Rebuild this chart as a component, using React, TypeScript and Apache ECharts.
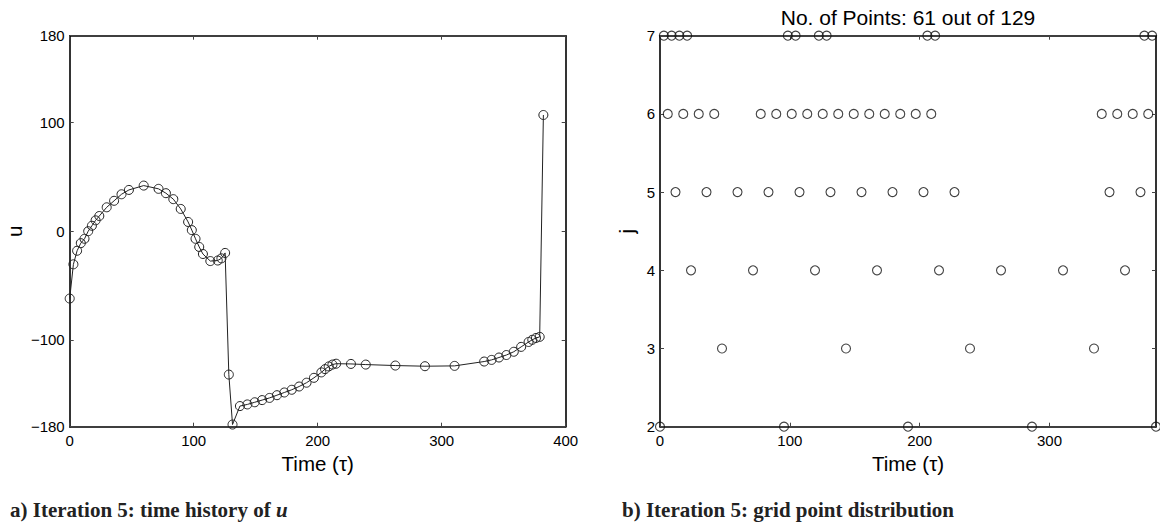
import React, { useEffect, useRef } from "react";
import * as echarts from "echarts";

// ---- Data ----
// Panel a: time history of u at the 61 retained grid points
const timePoints = [
  0, 2.98, 5.97, 8.95, 11.94, 14.92, 17.91, 20.89, 23.88, 29.84, 35.81, 41.78, 47.75,
  59.69, 71.63, 77.59, 83.56, 89.53, 95.5, 98.48, 101.47, 104.45, 107.44, 113.41,
  119.38, 122.36, 125.34, 128.33, 131.31, 137.28, 143.25, 149.22, 155.19, 161.16,
  167.13, 173.09, 179.06, 185.03, 191, 196.97, 202.94, 205.92, 208.91, 211.89, 214.88,
  226.81, 238.75, 262.63, 286.5, 310.38, 334.25, 340.22, 346.19, 352.16, 358.13,
  364.09, 370.06, 373.05, 376.03, 379.02, 382,
];
const uValues = [
  -62, -30.5, -18, -11, -7, 0, 5, 10, 14, 22, 28, 34, 38,
  42, 39, 35, 29.5, 20.5, 8.5, 1, -7, -14.5, -21, -27.5,
  -27, -25, -20, -132, -178, -161, -159.5, -157.5, -155.5, -153.5,
  -151, -148.5, -146, -143, -139.5, -135, -130, -127, -124.5, -122.8, -122,
  -122.2, -122.8, -123.7, -124.3, -124, -120, -118.5, -116.3, -114, -111,
  -106.5, -102, -100, -98.3, -97.3, 107,
];

// Panel b: grid point distribution, time positions per level j
const level2Times = [0, 95.5, 191, 286.5, 382];
const level3Times = [47.75, 143.25, 238.75, 334.25];
const level4Times = [23.88, 71.63, 119.38, 167.13, 214.88, 262.63, 310.38, 358.13];
const level5Times = [11.94, 35.81, 59.69, 83.56, 107.44, 131.31, 155.19, 179.06, 202.94, 226.81, 346.19, 370.06];
const level6Times = [
  5.97, 17.91, 29.84, 41.78, 77.59, 89.53, 101.47, 113.41, 125.34, 137.28, 149.22,
  161.16, 173.09, 185.03, 196.97, 208.91, 340.22, 352.16, 364.09, 376.03,
];
const level7Times = [2.98, 8.95, 14.92, 20.89, 98.48, 104.45, 122.36, 128.33, 205.92, 211.89, 373.05, 379.02];
const levels = [2, 3, 4, 5, 6, 7];
const levelTimes = [level2Times, level3Times, level4Times, level5Times, level6Times, level7Times];

// Tick labels
const uTicks = [-180, -100, 0, 100, 180];
const timeTicksA = [0, 100, 200, 300, 400];
const timeTicksB = [0, 100, 200, 300];
const jTicks = [2, 3, 4, 5, 6, 7];

const titleText = "No. of Points: 61 out of 129";
const captionA = "a) Iteration 5: time history of ";
const captionB = "b) Iteration 5: grid point distribution";

const SANS = '"Liberation Sans", Arial, Helvetica, sans-serif';
const SERIF = '"Liberation Serif", "Times New Roman", serif';

const fmtMinus = (v: number) => (v < 0 ? "\u2212" + Math.abs(v) : String(v));

function mkAxis(opts: any) {
  const { gridIndex, position, min, max, ticks, labels, name, nameGap, formatter } = opts;
  return {
    type: "value",
    gridIndex,
    position,
    min,
    max,
    name: name || "",
    nameLocation: "middle",
    nameGap: nameGap || 20,
    nameTextStyle: { fontFamily: SANS, fontSize: 20.5, color: "#000" },
    axisLine: { show: true, onZero: false, lineStyle: { color: "#000", width: 1.6 } },
    axisTick: {
      show: true,
      inside: true,
      length: 4,
      customValues: ticks,
      lineStyle: { color: "#444", width: 1 },
    },
    axisLabel: {
      show: !!labels,
      customValues: ticks,
      fontFamily: SANS,
      fontSize: 15,
      color: "#000",
      margin: position === "bottom" ? 6 : 5,
      formatter: formatter || ((v: number) => String(v)),
    },
    splitLine: { show: false },
  };
}

export default function App() {
  const ref = useRef<HTMLDivElement>(null);
  useEffect(() => {
    if (!ref.current) return;
    const chart = echarts.init(ref.current, null, { renderer: "svg" });
    const scatterData: number[][] = [];
    levelTimes.forEach((arr, i) => arr.forEach((t) => scatterData.push([t, levels[i]])));

    chart.setOption({
      animation: false,
      backgroundColor: "#fff",
      title: [
        {
          text: titleText,
          left: 903,
          top: 2,
          textAlign: "center",
          textStyle: { fontFamily: SANS, fontSize: 21, fontWeight: "normal", color: "#000" },
        },
        {
          text: "{b|" + captionA + "}{i|u}",
          left: 5,
          top: 494,
          textStyle: {
            rich: {
              b: { fontFamily: SERIF, fontWeight: "bold", fontSize: 21, color: "#222" },
              i: { fontFamily: SERIF, fontWeight: "bold", fontStyle: "italic", fontSize: 21, color: "#222" },
            },
          },
        },
        {
          text: captionB,
          left: 617,
          top: 494,
          textStyle: { fontFamily: SERIF, fontWeight: "bold", fontSize: 21, color: "#222" },
        },
      ],
      grid: [
        { left: 69.7, right: 594.3, top: 35.7, bottom: 99.3 },
        { left: 660, right: 4, top: 35.7, bottom: 99.3 },
      ],
      xAxis: [
        mkAxis({ gridIndex: 0, position: "bottom", min: 0, max: 400, ticks: timeTicksA, labels: true, name: "Time (\u03c4)", nameGap: 22 }),
        mkAxis({ gridIndex: 0, position: "top", min: 0, max: 400, ticks: timeTicksA, labels: false }),
        mkAxis({ gridIndex: 1, position: "bottom", min: 0, max: 382, ticks: timeTicksB, labels: true, name: "Time (\u03c4)", nameGap: 22 }),
        mkAxis({ gridIndex: 1, position: "top", min: 0, max: 382, ticks: timeTicksB, labels: false }),
      ],
      yAxis: [
        mkAxis({ gridIndex: 0, position: "left", min: -180, max: 180, ticks: uTicks, labels: true, name: "u", nameGap: 45, formatter: fmtMinus }),
        mkAxis({ gridIndex: 0, position: "right", min: -180, max: 180, ticks: uTicks, labels: false }),
        mkAxis({ gridIndex: 1, position: "left", min: 2, max: 7, ticks: jTicks, labels: true, name: "j", nameGap: 23 }),
        mkAxis({ gridIndex: 1, position: "right", min: 2, max: 7, ticks: jTicks, labels: false }),
      ],
      series: [
        {
          type: "line",
          xAxisIndex: 0,
          yAxisIndex: 0,
          data: timePoints.map((t, i) => [t, uValues[i]]),
          symbol: "circle",
          symbolSize: 9,
          showAllSymbol: true,
          clip: false,
          silent: true,
          itemStyle: { color: "rgba(0,0,0,0)", borderColor: "#222", borderWidth: 1 },
          lineStyle: { color: "#222", width: 1 },
        },
        {
          type: "scatter",
          xAxisIndex: 2,
          yAxisIndex: 2,
          data: scatterData,
          symbol: "circle",
          symbolSize: 9,
          clip: false,
          silent: true,
          itemStyle: { color: "rgba(0,0,0,0)", borderColor: "#111", borderWidth: 1.1 },
        },
      ],
    });
    return () => chart.dispose();
  }, []);
  return (
    <div
      ref={ref}
      style={{ position: "absolute", left: 0, top: 0, width: 1160, height: 526 }}
    />
  );
}
